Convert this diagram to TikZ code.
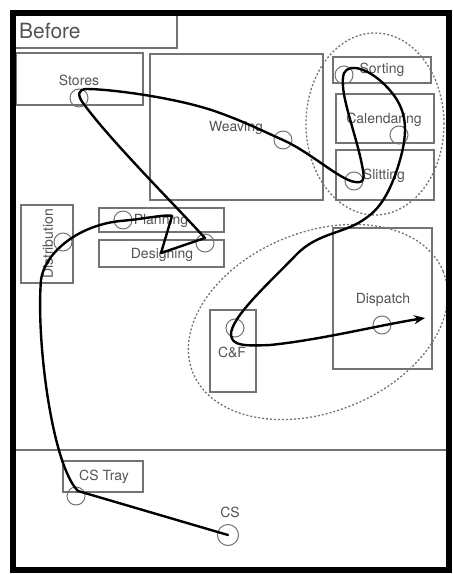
\documentclass[tikz,border=0pt]{standalone}
\usepackage{fontspec}
\setmainfont{TeX Gyre Heros}
\usetikzlibrary{arrows.meta}
\definecolor{boxgray}{gray}{0.45}
\definecolor{txtgray}{gray}{0.33}
\begin{document}
\begin{tikzpicture}[x=1pt,y=-1pt,
  box/.style={draw=boxgray, line width=1.3pt},
  lbl/.style={text=txtgray, font=\fontsize{14}{16}\selectfont, inner sep=0pt},
  spot/.style={draw=boxgray, line width=1pt, circle, minimum size=18pt, inner sep=0pt},
  zone/.style={draw=boxgray, line width=1.3pt, dash pattern=on 2pt off 2pt},
  flow/.style={line width=2.4pt, line join=round, line cap=round}]
\useasboundingbox (0,0) rectangle (453,574);
\fill[white] (0,0) rectangle (453,574);
% boxes
\draw[box] (13,15) rectangle (177,48);
\draw[box] (16,53) rectangle (143,105);
\draw[box] (150,54) rectangle (323,200);
\draw[box] (333,57) rectangle (431,83);
\draw[box] (336,94) rectangle (434,143);
\draw[box] (336,150) rectangle (434,200);
\draw[box] (21,205) rectangle (73,283);
\draw[box] (99,208) rectangle (224,232);
\draw[box] (99,240) rectangle (224,267);
\draw[box] (210,310) rectangle (256,392);
\draw[box] (333,228) rectangle (432,369);
\draw[box] (63,461) rectangle (143,492);
\draw[box] (13,450) -- (449,450);
% zones
\draw[zone] (375,124) ellipse [x radius=69pt, y radius=91pt];
\draw[zone, rotate around={22:(318,322)}] (318,322) ellipse [x radius=135pt, y radius=90pt];
% labels
\node[lbl, anchor=west, font=\fontsize{21}{23}\selectfont] (tBefore) at (19,31) {Before};
\node[lbl] (tStores) at (79,80) {Stores};
\node[lbl] (tWeaving) at (236,128) {Weaving};
\node[lbl] (tSorting) at (382,70) {Sorting};
\node[lbl] (tCal) at (384,120) {Calendaring};
\node[lbl] (tSlit) at (384,176) {Slitting};
\node[lbl, rotate=90] (tDist) at (48,244) {Distribution};
\node[lbl] (tPlan) at (161,221) {Planning};
\node[lbl] (tDes) at (162,255) {Designing};
\node[lbl] (tCF) at (232,352) {C\&F};
\node[lbl] (tDisp) at (383,300) {Dispatch};
\node[lbl] (tTray) at (104,477) {CS Tray};
\node[lbl] (tCS) at (230,512) {CS};
% spots
\node[spot] (cStores) at (79,98) {};
\node[spot] (cWeav) at (283,140) {};
\node[spot] (cSort) at (344,75) {};
\node[spot] (cCal) at (399,135) {};
\node[spot] (cSlit) at (354,181) {};
\node[spot] (cDist) at (63,242) {};
\node[spot] (cPlan) at (123,220) {};
\node[spot] (cDes) at (205,243) {};
\node[spot] (cCF) at (235,328) {};
\node[spot] (cDisp) at (382,325) {};
\node[spot] (cTray) at (76,496) {};
\node[spot, minimum size=21pt] (cCS) at (228,535) {};
\coordinate (flowEnd) at (425,318);
% flow path
\draw[flow, -{Stealth[length=11pt, width=9pt]}]
  (cCS.center) -- (78,491)
  .. controls (52,465) and (36,340) .. (41,280)
  .. controls (44,255) and (75,226) .. (120,221)
  .. controls (145,219) and (165,214) .. (172,216)
  -- (161,253) -- (205,238)
  .. controls (170,200) and (110,140) .. (83,103)
  .. controls (77,95) and (78,89) .. (87,89)
  .. controls (110,89) and (180,98) .. (220,113)
  .. controls (245,122) and (265,132) .. (cWeav.center)
  .. controls (310,152) and (340,180) .. (355,182)
  .. controls (366,184) and (364,175) .. (362,165)
  .. controls (355,130) and (338,90) .. (344,73)
  .. controls (350,62) and (370,70) .. (385,85)
  .. controls (405,105) and (410,125) .. (400,160)
  .. controls (390,195) and (378,210) .. (366,218)
  .. controls (345,234) and (318,232) .. (296,255)
  .. controls (270,282) and (230,318) .. (231,335)
  .. controls (232,346) and (245,346) .. (270,345)
  .. controls (320,340) and (380,325) .. (flowEnd);
% frame
\draw[line width=6pt] (13,13) rectangle (449,570);
\end{tikzpicture}
\end{document}
